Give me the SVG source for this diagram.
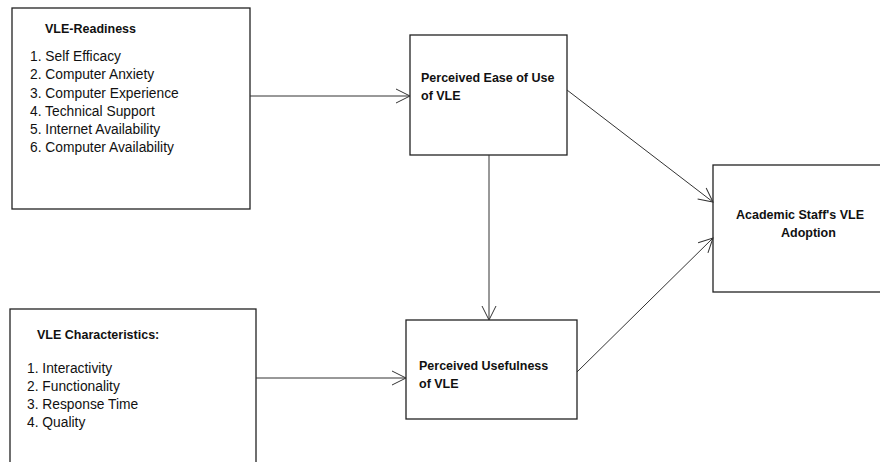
<svg xmlns="http://www.w3.org/2000/svg" width="880" height="462" viewBox="0 0 880 462">
<defs>
<marker id="ah" markerWidth="18" markerHeight="18" refX="15" refY="8" orient="auto" markerUnits="userSpaceOnUse">
<path d="M1,1 L15,8 L1,15" fill="none" stroke="#333" stroke-width="1"/>
</marker>
</defs>
<style>
.box{fill:#fff;stroke:#222;stroke-width:1.3}
.t{font-family:"Liberation Sans",Arial,sans-serif;font-size:13.8px;fill:#111}
.b{font-weight:bold;font-size:12.5px}
.c{stroke:#333;stroke-width:1;fill:none;marker-end:url(#ah)}
</style>
<rect width="880" height="462" fill="#fff"/>
<g id="vle-readiness">
<rect class="box" x="12" y="8" width="238" height="201"/>
<text class="t b" x="45" y="33">VLE-Readiness</text>
<text class="t" x="30" y="61">1. Self Efficacy</text>
<text class="t" x="30" y="79">2. Computer Anxiety</text>
<text class="t" x="30" y="98">3. Computer Experience</text>
<text class="t" x="30" y="116">4. Technical Support</text>
<text class="t" x="30" y="134">5. Internet Availability</text>
<text class="t" x="30" y="152">6. Computer Availability</text>
</g>
<g id="vle-characteristics">
<rect class="box" x="10" y="309" width="246" height="160"/>
<text class="t b" x="37" y="339">VLE Characteristics:</text>
<text class="t" x="27" y="373">1. Interactivity</text>
<text class="t" x="27" y="391">2. Functionality</text>
<text class="t" x="27" y="409">3. Response Time</text>
<text class="t" x="27" y="427">4. Quality</text>
</g>
<g id="peou">
<rect class="box" x="410" y="35" width="157" height="120"/>
<text class="t b" x="421" y="82">Perceived Ease of Use</text>
<text class="t b" x="421" y="100">of VLE</text>
</g>
<g id="pu">
<rect class="box" x="406" y="320" width="171" height="99"/>
<text class="t b" x="419" y="370">Perceived Usefulness</text>
<text class="t b" x="419" y="388">of VLE</text>
</g>
<g id="adoption">
<rect class="box" x="713" y="165" width="180" height="127"/>
<text class="t b" x="736" y="219">Academic Staff's VLE</text>
<text class="t b" x="781" y="237">Adoption</text>
</g>
<g id="connectors">
<line class="c" x1="250" y1="96" x2="410" y2="96"/>
<line class="c" x1="489" y1="155" x2="489" y2="320"/>
<line class="c" x1="567" y1="90" x2="713" y2="202"/>
<line class="c" x1="577" y1="372" x2="713" y2="238"/>
<line class="c" x1="256" y1="378" x2="406" y2="378"/>
</g>
</svg>
